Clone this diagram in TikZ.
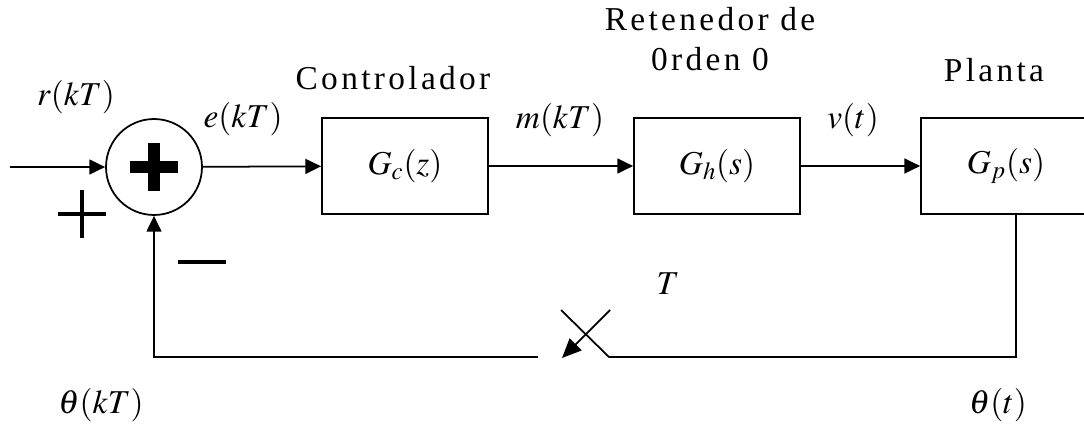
\documentclass[tikz,border=0pt]{standalone}
\usepackage{mathptmx}
\usepackage{fontspec}
\setmainfont{Liberation Serif}
\usepackage{tikz}
\usetikzlibrary{arrows.meta, positioning, calc}

\tikzset{
  blk/.style={draw, line width=1pt, minimum width=3.32cm, minimum height=1.92cm, inner sep=0pt},
  arr/.style={line width=1pt, -{Triangle[length=9pt,width=8.5pt]}},
  lin/.style={line width=1pt},
  lbl/.style={font=\fontsize{19}{22}\selectfont},
  ttl/.style={font=\fontsize{19}{23}\selectfont\addfontfeatures{LetterSpace=10}, align=center}
}

\begin{document}
\begin{tikzpicture}[x=0.02cm, y=-0.02cm]
  \useasboundingbox (0,0) rectangle (1084,423);

  % Blocks
  \node[draw, circle, line width=1pt, minimum size=1.92cm, inner sep=0pt] (sum) at (154,167) {};
  \node[blk, lbl] (gc) at (405,166) {$G_c(z)$};
  \node[blk, lbl] (gh) at (717,166) {$G_h(s)$};
  \node[blk, lbl, minimum width=3.8cm] (gp) at (1016,166) {\hspace{-0.4cm}$G_p(s)$};

  % Bold plus inside the summing junction
  \draw[line width=6.8pt] ($(sum)+(-24,0)$) -- ($(sum)+(24,0)$);
  \draw[line width=6.8pt] ($(sum)+(0,-24)$) -- ($(sum)+(0,24)$);

  % Signs
  \draw[line width=2pt] (58,214) -- (106,214);
  \draw[line width=2pt] (82,190) -- (82,238);
  \draw[line width=2.4pt] (178,262) -- (226,262);

  % Points
  \coordinate (in) at (10,167);
  \coordinate (tap) at (1016,357);
  \coordinate (swR) at (609,357);
  \coordinate (swA) at (561,310);
  \coordinate (swB) at (610,310);
  \coordinate (swT) at (562,358);
  \coordinate (fb) at (538,357);

  % Forward path
  \draw[arr] (in) -- (sum);
  \draw[arr] (sum) -- (gc);
  \draw[arr] (gc) -- (gh);
  \draw[arr] (gh) -- (gp);

  % Feedback path with sampler
  \draw[lin] (gp.south -| tap) -- (tap) -- (swR) -- (swA);
  \draw[arr, -{Triangle[length=11pt,width=9.5pt]}] (swB) -- (swT);
  \draw[arr] (fb) -| (sum.south);

  % Labels
  \node[lbl] (r) at (76,97) {$r(kT)$};
  \node[lbl] (e) at (243,119) {$e(kT)$};
  \node[lbl] (m) at (560,120) {$m(kT)$};
  \node[lbl] (v) at (853,120) {$v(t)$};
  \node[lbl] (smp) at (668,284) {$T$};
  \node[lbl] (thk) at (101,405) {$\theta(kT)$};
  \node[lbl] (tht) at (998,405) {$\theta(t)$};

  \node[ttl] (ctl) at (393,78) {Controlador};
  \node[ttl] (ret) at (710,39) {Retenedor de\\0rden 0};
  \node[ttl] (pla) at (994,70) {Planta};
\end{tikzpicture}
\end{document}
